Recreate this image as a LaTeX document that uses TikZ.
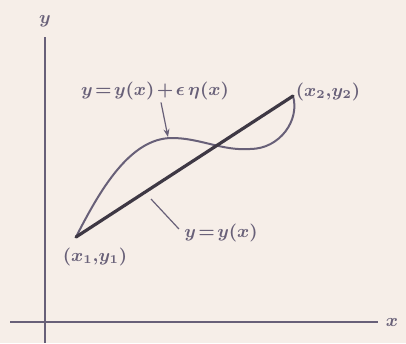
\documentclass[tikz,border=0pt]{standalone}
\usepackage{tikz}
\usetikzlibrary{arrows.meta,calc,positioning}
\definecolor{paper}{RGB}{246,238,232}
\definecolor{ink}{RGB}{104,96,120}
\definecolor{darkink}{RGB}{62,56,68}
\newcommand\tightmath{\thickmuskip=2mu\relax\medmuskip=2mu\relax}

\begin{document}
\begin{tikzpicture}[
  x=0.5pt,y=-0.5pt,
  >={Stealth[length=4pt,width=3pt]},
  axis/.style={draw=ink,line width=0.75pt},
  varied/.style={draw=ink,line width=1pt},
  extremal/.style={draw=darkink,line width=1.6pt,line cap=round},
  lbl/.style={text=ink,inner sep=1pt,font=\fontsize{8.6}{10}\selectfont\boldmath\tightmath},
  leader/.style={draw=ink,line width=0.6pt}
]
  % paper
  \fill[paper] (0,0) rectangle (406,343);
  \useasboundingbox (0,0) rectangle (406,343);

  % Axes
  \coordinate (O) at (45,322);
  \draw[axis] (10,322) -- (378,322);
  \draw[axis] (45,37) -- (45,343);
  \node[lbl] (xlab) at (392,322) {$x$};
  \node[lbl] (ylab) at (45,21) {$y$};

  % End points
  \coordinate (p1) at (76,237);
  \coordinate (p2) at (293,96);

  % Varied path
  \draw[varied] (p1)
    .. controls (100,190) and (130,138) .. (172,138)
    .. controls (200,138) and (222,151) .. (250,149)
    .. controls (280,149) and (300,120) .. (p2);

  % Extremal path
  \draw[extremal] (p1) -- (p2);

  % Labels
  \node[lbl] (lblone) at (95,257) {$(x_1{,}y_1)$};
  \node[lbl] (lbltwo) at (328,92) {$(x_2{,}y_2)$};
  \node[lbl] (lblvar) at (155,91) {$y=y(x)+\epsilon\,\eta(x)$};
  \node[lbl] (lblext) at (221,233) {$y=y(x)$};

  % Pointers
  \coordinate (tipA) at (168,137);
  \coordinate (tipB) at (151,199);
  \draw[leader,->] ($(lblvar.south)+(6,0)$) -- (tipA);
  \draw[leader] ($(lblext.west)+(-3,-4)$) -- (tipB);
\end{tikzpicture}
\end{document}
